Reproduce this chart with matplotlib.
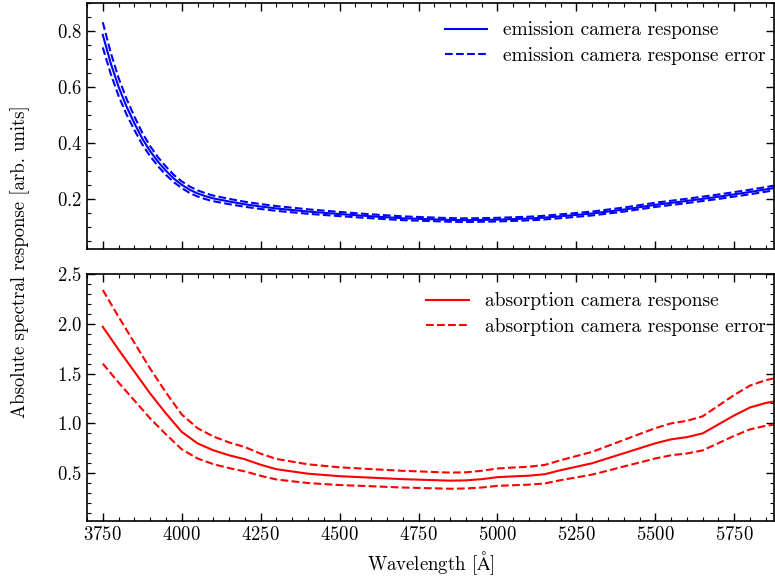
import matplotlib
matplotlib.use("Agg")
import matplotlib.pyplot as plt
from matplotlib.ticker import MultipleLocator

plt.rcParams.update({
    "font.family": "serif",
    "font.serif": ["cmr10"],
    "mathtext.fontset": "cm",
    "axes.formatter.use_mathtext": True,
    "font.size": 13.5,
})

# Emission camera response (top panel)
em_wave = [3750, 3775, 3800, 3825, 3850, 3875, 3900, 3925, 3950, 3975, 4000, 4025, 4050, 4075, 4100,
           4150, 4200, 4250, 4300, 4400, 4500, 4600, 4700, 4800, 4850, 4900, 5000, 5100,
           5133, 5200, 5300, 5400, 5500, 5600, 5700, 5800, 5876]
em_resp = [0.786, 0.685, 0.60, 0.53, 0.47, 0.415, 0.37, 0.332, 0.300, 0.272, 0.250, 0.232, 0.219, 0.209, 0.201,
           0.19, 0.18, 0.172, 0.165, 0.154, 0.145, 0.137, 0.13, 0.126, 0.124, 0.123, 0.125, 0.129,
           0.131, 0.137, 0.147, 0.161, 0.178, 0.192, 0.207, 0.224, 0.238]
em_err = [0.045, 0.038, 0.032, 0.028, 0.024, 0.021, 0.018, 0.016, 0.015, 0.013, 0.012, 0.0115, 0.011, 0.0105, 0.010,
          0.0095, 0.009, 0.0088, 0.0085, 0.008, 0.0075, 0.007, 0.0068, 0.0065, 0.0065, 0.0065, 0.0065, 0.0066,
          0.0066, 0.0068, 0.007, 0.0072, 0.0075, 0.0077, 0.0079, 0.0081, 0.0083]

# Absorption camera response (bottom panel)
ab_wave = [3750, 3800, 3850, 3900, 3950, 4000, 4050, 4100, 4150, 4200, 4250, 4300, 4400, 4500,
           4600, 4700, 4800, 4850, 4900, 4950, 5000, 5050, 5100, 5150, 5200, 5250, 5300, 5350,
           5400, 5450, 5500, 5550, 5600, 5650, 5700, 5750, 5800, 5850, 5876]
ab_resp = [1.97, 1.74, 1.52, 1.30, 1.10, 0.915, 0.80, 0.73, 0.68, 0.64, 0.585, 0.54, 0.495, 0.47,
           0.455, 0.44, 0.43, 0.425, 0.428, 0.44, 0.46, 0.468, 0.475, 0.49, 0.53, 0.565, 0.60, 0.65,
           0.70, 0.75, 0.80, 0.84, 0.862, 0.90, 0.99, 1.08, 1.16, 1.205, 1.22]
ab_err = [0.37, 0.33, 0.29, 0.25, 0.21, 0.175, 0.152, 0.139, 0.129, 0.122, 0.111, 0.103, 0.094, 0.089,
          0.086, 0.084, 0.082, 0.081, 0.081, 0.084, 0.087, 0.089, 0.09, 0.093, 0.10, 0.107, 0.114, 0.124,
          0.133, 0.143, 0.152, 0.16, 0.164, 0.171, 0.188, 0.205, 0.22, 0.229, 0.232]

fig = plt.figure(figsize=(7.75, 5.77), dpi=100)
ax1 = fig.add_axes([87/775, 1-249/577, 687/775, 246/577])
ax2 = fig.add_axes([87/775, 1-521/577, 687/775, 247/577])

blue = (0, 0, 1)
red = (1, 0, 0)
lw = 1.5

ax1.plot(em_wave, em_resp, color=blue, lw=lw, label="emission camera response")
ax1.plot(em_wave, [r + e for r, e in zip(em_resp, em_err)], color=blue, lw=lw, ls="--",
         label="emission camera response error")
ax1.plot(em_wave, [r - e for r, e in zip(em_resp, em_err)], color=blue, lw=lw, ls="--")

ax2.plot(ab_wave, ab_resp, color=red, lw=lw, label="absorption camera response")
ax2.plot(ab_wave, [r + e for r, e in zip(ab_resp, ab_err)], color=red, lw=lw, ls="--",
         label="absorption camera response error")
ax2.plot(ab_wave, [r - e for r, e in zip(ab_resp, ab_err)], color=red, lw=lw, ls="--")

for ax in (ax1, ax2):
    ax.set_xlim(3700, 5876)
    ax.xaxis.set_major_locator(MultipleLocator(250))
    ax.xaxis.set_minor_locator(MultipleLocator(50))
    ax.tick_params(which="both", direction="in", top=True, right=True)
    ax.tick_params(which="major", length=6, width=1)
    ax.tick_params(which="minor", length=3, width=0.8)
    for s in ax.spines.values():
        s.set_linewidth(1.2)
    ax.legend(loc="upper right", bbox_to_anchor=(1.0 + 10/687, 1.0), frameon=False,
              fontsize=14, handlelength=2.2, borderaxespad=0.55, labelspacing=0.4)

ax1.set_ylim(0.02, 0.9)
ax1.yaxis.set_major_locator(MultipleLocator(0.2))
ax1.yaxis.set_minor_locator(MultipleLocator(0.05))
ax1.tick_params(labelbottom=False)

ax2.set_ylim(0.02, 2.5)
ax2.yaxis.set_major_locator(MultipleLocator(0.5))
ax2.yaxis.set_minor_locator(MultipleLocator(0.1))

ax2.set_xlabel(r"Wavelength [$\mathrm{\AA}$]")
fig.text(20/775, 1-262/577, "Absolute spectral response [arb. units]", rotation=90,
         ha="center", va="center", fontsize=13.5)

fig.savefig("out.png", dpi=100)
